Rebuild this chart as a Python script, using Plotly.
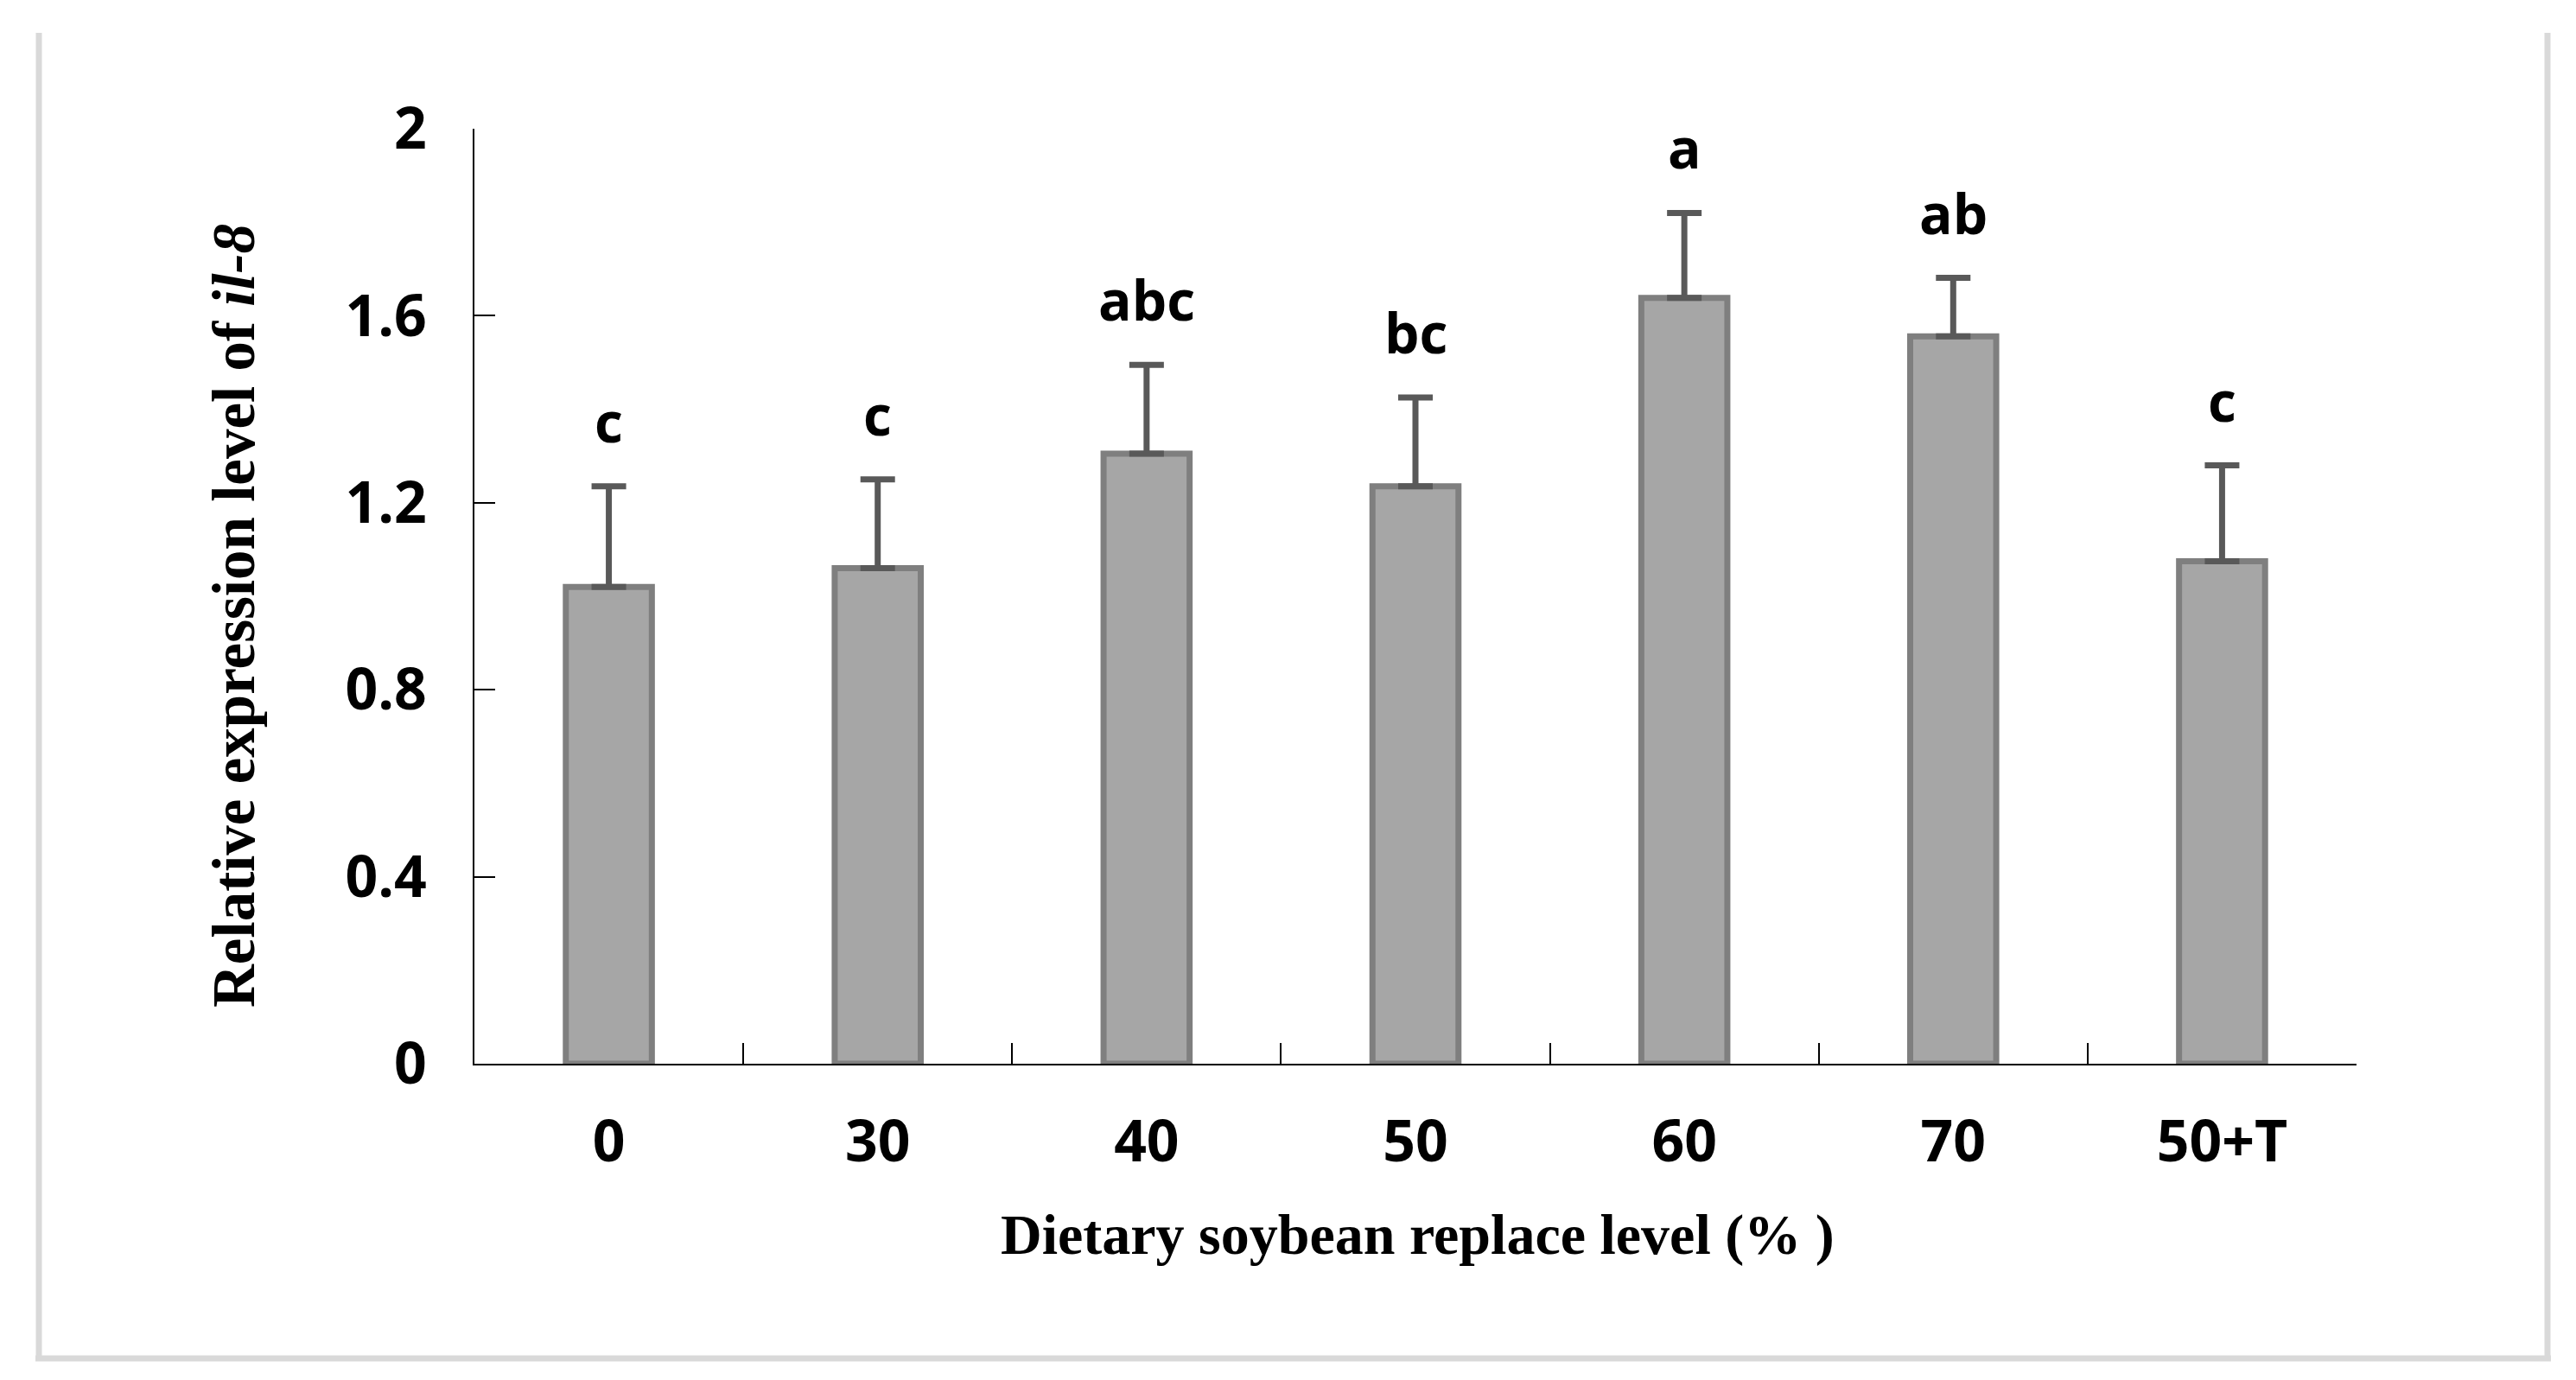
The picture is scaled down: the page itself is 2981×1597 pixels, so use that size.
import plotly.graph_objects as go

# ---- data ----
categories = ["0", "30", "40", "50", "60", "70", "50+T"]
values = [1.02, 1.06, 1.305, 1.235, 1.638, 1.556, 1.075]
errors = [0.215, 0.19, 0.19, 0.19, 0.182, 0.125, 0.205]
letters = ["c", "c", "abc", "bc", "a", "ab", "c"]
y_ticks = [0, 0.4, 0.8, 1.2, 1.6, 2]
y_tick_text = ["0", "0.4", "0.8", "1.2", "1.6", "2"]

# ---- geometry (pixels) ----
W, H = 2981, 1597
ML, MR, MT, MB = 541, 262, 141, 374
PW, PH = W - ML - MR, H - MT - MB


def px(x):
    return (x - ML) / PW


def py(y):
    return (H - MB - y) / PH


sans = "Open Sans"
serif = "Liberation Serif"

fig = go.Figure()
fig.add_trace(go.Bar(
    x=categories,
    y=values,
    marker=dict(color="#A6A6A6", line=dict(color="#7F7F7F", width=7)),
    error_y=dict(type="data", array=errors, arrayminus=[0] * len(errors),
                 symmetric=False, color="#595959", thickness=7, width=20),
    showlegend=False,
    hoverinfo="skip",
))

for i, (v, e, t) in enumerate(zip(values, errors, letters)):
    fig.add_annotation(x=i, y=v + e, text=t, showarrow=False, yanchor="bottom",
                       yshift=30, font=dict(family=sans, size=64, color="black", weight="bold"))

# axis titles
fig.add_annotation(xref="paper", yref="paper", x=px(263), y=py(705), textangle=-90,
                   text="Relative expression level of <i>il-8</i>", showarrow=False,
                   xanchor="center", yanchor="middle",
                   font=dict(family=serif, size=69, color="black", weight="bold"))
fig.add_annotation(xref="paper", yref="paper", x=px(1632), y=py(1421),
                   text="Dietary soybean replace level (% )", showarrow=False,
                   xanchor="center", yanchor="middle",
                   font=dict(family=serif, size=66, color="black", weight="bold"))

# outer border (left, bottom, right)
bc = "#D9D9D9"
for x0, y0, x1, y1 in [(37, 30, 37, 1567), (33, 1564, 2944, 1564), (2940, 30, 2940, 1567)]:
    fig.add_shape(type="line", xref="paper", yref="paper",
                  x0=px(x0), y0=py(y0), x1=px(x1), y1=py(y1),
                  line=dict(color=bc, width=7))

fig.update_layout(
    width=W, height=H,
    margin=dict(l=ML, r=MR, t=MT, b=MB, autoexpand=False),
    paper_bgcolor="white", plot_bgcolor="white",
    bargap=0.68,
)
fig.update_xaxes(
    type="category", range=[-0.5, len(categories) - 0.5],
    tickson="boundaries", ticks="inside", ticklen=24, tickwidth=2, tickangle=0,
    tickcolor="black", showline=True, linecolor="black", linewidth=2, showgrid=False,
    tickfont=dict(family=sans, size=66, color="black", weight="bold"),
    ticklabelstandoff=32, zeroline=False,
)
fig.update_yaxes(
    range=[0, 2], tickvals=y_ticks, ticktext=y_tick_text, ticks="inside", ticklen=24,
    tickwidth=2, tickcolor="black", showline=True, linecolor="black", linewidth=2,
    showgrid=False, zeroline=False,
    tickfont=dict(family=sans, size=66, color="black", weight="bold"),
    ticklabelstandoff=40,
)

fig.write_html("out.html")
